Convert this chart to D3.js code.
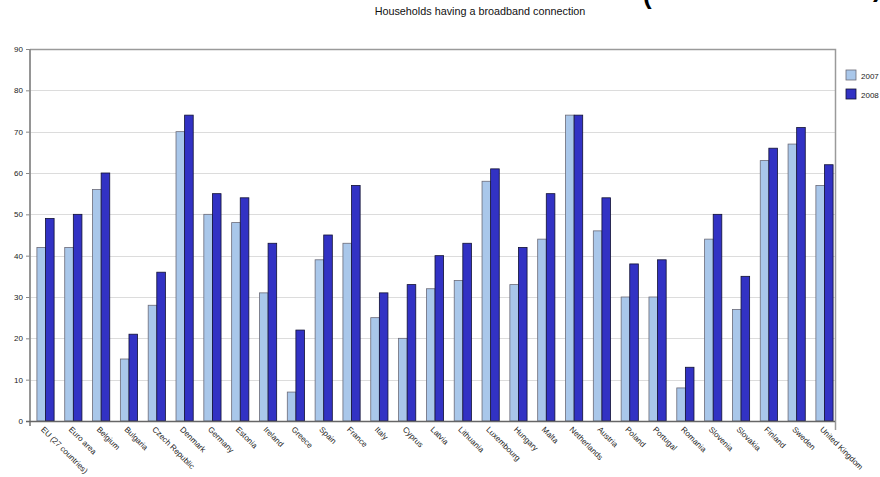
<!DOCTYPE html>
<html>
<head>
<meta charset="utf-8">
<script src="https://cdn.jsdelivr.net/npm/d3@7/dist/d3.min.js"></script>
<style>
  html, body { margin: 0; padding: 0; background: #fff; }
  svg { display: block; font-family: "Liberation Sans", Arial, sans-serif; }
</style>
</head>
<body>
<svg id="chart" width="880" height="477"></svg>
<script>
const countries = [
  "EU (27 countries)", "Euro area", "Belgium", "Bulgaria", "Czech Republic",
  "Denmark", "Germany", "Estonia", "Ireland", "Greece", "Spain", "France",
  "Italy", "Cyprus", "Latvia", "Lithuania", "Luxembourg", "Hungary", "Malta",
  "Netherlands", "Austria", "Poland", "Portugal", "Romania", "Slovenia",
  "Slovakia", "Finland", "Sweden", "United Kingdom"
];
const years = ["2007", "2008"];
const values2007 = [42, 42, 56, 15, 28, 70, 50, 48, 31, 7, 39, 43, 25, 20, 32, 34, 58, 33, 44, 74, 46, 30, 30, 8, 44, 27, 63, 67, 57];
const values2008 = [49, 50, 60, 21, 36, 74, 55, 54, 43, 22, 45, 57, 31, 33, 40, 43, 61, 42, 55, 74, 54, 38, 39, 13, 50, 35, 66, 71, 62];
const yTicks = [0, 10, 20, 30, 40, 50, 60, 70, 80, 90];

const series = [values2007, values2008];
const fills = ["#a9c7ea", "#3232c4"];
const strokes = ["#6b6b78", "#111133"];

const svg = d3.select("#chart");
const frame = { left: 30, right: 835, top: 49, bottom: 421 };

const x = d3.scaleBand().domain(countries).range([31.6, 838.4]).paddingInner(0).paddingOuter(0);
const x1 = d3.scaleBand().domain(years).range([x.bandwidth() / 2 - 8.6, x.bandwidth() / 2 + 8.6]);
const y = d3.scaleLinear().domain([0, 90]).range([frame.bottom, frame.top]);

// title
svg.append("text")
  .attr("x", 480).attr("y", 15)
  .attr("text-anchor", "middle")
  .attr("font-size", 10.8).attr("fill", "#111")
  .text("Households having a broadband connection");

// parentheses of the page heading, running off the top edge
svg.append("text").attr("x", 643).attr("y", 4).attr("font-size", 26).attr("font-weight", "bold").attr("fill", "#000").text("(");
svg.append("text").attr("x", 873).attr("y", -3).attr("font-size", 26).attr("font-weight", "bold").attr("fill", "#000").text(")");

// gridlines
svg.append("g")
  .selectAll("line")
  .data(yTicks.filter(d => d > 0 && d < 90))
  .join("line")
  .attr("x1", frame.left).attr("x2", frame.right)
  .attr("y1", d => Math.round(y(d)) + 0.5).attr("y2", d => Math.round(y(d)) + 0.5)
  .attr("stroke", "#dcdcdc").attr("stroke-width", 1);

// top and right frame
svg.append("path")
  .attr("d", `M${frame.left},${frame.top + 0.5}H${frame.right + 0.5}V${frame.bottom + 9}`)
  .attr("fill", "none").attr("stroke", "#9a9a9a").attr("stroke-width", 1.5);

// bars
const groups = svg.append("g")
  .selectAll("g")
  .data(countries)
  .join("g")
  .attr("transform", d => `translate(${x(d)},0)`);

groups.selectAll("rect")
  .data((d, i) => years.map((yr, k) => ({ yr, k, v: series[k][i] })))
  .join("rect")
  .attr("x", d => x1(d.yr))
  .attr("width", x1.bandwidth())
  .attr("y", d => y(d.v))
  .attr("height", d => y(0) - y(d.v))
  .attr("fill", d => fills[d.k])
  .attr("stroke", d => strokes[d.k])
  .attr("stroke-width", 0.8);

// y axis
const yAxis = d3.axisLeft(y).tickValues(yTicks).tickSize(4).tickPadding(3);
const gy = svg.append("g").attr("transform", `translate(${frame.left},0)`).call(yAxis);
gy.select(".domain").remove();
gy.selectAll(".tick line").attr("stroke", "#888");
gy.selectAll(".tick text").attr("font-size", 8).attr("fill", "#222").attr("font-family", "Liberation Sans, Arial, sans-serif");
svg.append("line")
  .attr("x1", frame.left).attr("x2", frame.left)
  .attr("y1", frame.top).attr("y2", frame.bottom + 5)
  .attr("stroke", "#8a8a8a").attr("stroke-width", 1.8);

// x axis
const xAxis = d3.axisBottom(x).tickSize(0).tickPadding(0);
const gx = svg.append("g").attr("transform", `translate(0,${frame.bottom})`).call(xAxis);
gx.select(".domain").remove();
gx.selectAll(".tick text")
  .attr("font-size", 8).attr("fill", "#222").attr("font-family", "Liberation Sans, Arial, sans-serif")
  .attr("text-anchor", "start")
  .attr("dy", 0)
  .attr("transform", "translate(-5,9) rotate(45)");
svg.append("line")
  .attr("x1", frame.left - 4).attr("x2", frame.right)
  .attr("y1", frame.bottom + 0.5).attr("y2", frame.bottom + 0.5)
  .attr("stroke", "#666").attr("stroke-width", 1.6);

// legend
const legend = svg.append("g").attr("transform", "translate(846,70)");
years.forEach((yr, k) => {
  const g = legend.append("g").attr("transform", `translate(0,${k * 19})`);
  g.append("rect").attr("width", 10).attr("height", 10)
    .attr("fill", fills[k]).attr("stroke", strokes[k]).attr("stroke-width", 0.8);
  g.append("text").attr("x", 15).attr("y", 8.5).attr("font-size", 8).attr("fill", "#222").text(yr);
});
</script>
</body>
</html>
